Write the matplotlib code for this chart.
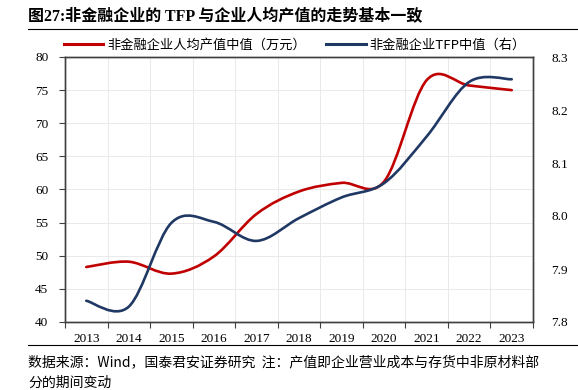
import matplotlib.pyplot as plt
import numpy as np
from matplotlib.path import Path
from matplotlib.patches import PathPatch
from matplotlib.lines import Line2D

plt.rcParams['font.family'] = ['Liberation Serif', 'Noto Sans CJK SC']

years = [2013, 2014, 2015, 2016, 2017, 2018, 2019, 2020, 2021, 2022, 2023]
output_median = [48.3, 49.1, 47.3, 49.9, 56.3, 59.7, 61.0, 61.2, 76.5, 75.7, 75.0]
tfp_median = [7.840, 7.829, 7.987, 7.989, 7.953, 7.996, 8.035, 8.062, 8.150, 8.253, 8.258]
name_output = "非金融企业人均产值中值（万元）"
name_tfp = "非金融企业TFP中值（右）"

red = "#C00000"
navy = "#203864"


def smooth_path(xs, ys):
    # Excel-style smoothed line: cubic Bezier segments through the data points
    xs = np.asarray(xs, float)
    ys = np.asarray(ys, float)
    pts = np.column_stack([xs, ys])
    n = len(pts)
    verts = [pts[0]]
    codes = [Path.MOVETO]
    for i in range(n - 1):
        p0 = pts[i - 1] if i > 0 else pts[i]
        p1 = pts[i]
        p2 = pts[i + 1]
        p3 = pts[i + 2] if i + 2 < n else pts[i + 1]
        c1 = p1 + (p2 - p0) / 6
        c2 = p2 - (p3 - p1) / 6
        verts += [c1, c2, p2]
        codes += [Path.CURVE4] * 3
    return Path(verts, codes)


fig = plt.figure(figsize=(5.78, 3.9), dpi=100)
ax = fig.add_axes([65 / 578, 1 - 322 / 390, 468 / 578, 265 / 390])
ax2 = ax.twinx()

ax.set_xlim(years[0] - 0.5, years[-1] + 0.5)
ax.set_ylim(40, 80)
ax2.set_ylim(7.8, 8.3)

ax.add_patch(PathPatch(smooth_path(years, output_median), fill=False,
                       edgecolor=red, lw=1.9, capstyle='round', zorder=3))
ax2.add_patch(PathPatch(smooth_path(years, tfp_median), fill=False,
                        edgecolor=navy, lw=1.9, capstyle='round', zorder=3))

ax.set_xticks(np.arange(years[0] - 0.5, years[-1] + 1, 1))
ax.set_xticklabels([])
ax.set_xticks(years, minor=True)
ax.set_xticklabels([str(y) for y in years], minor=True)
ax.tick_params(axis='x', which='minor', length=0, pad=8, labelsize=9.5)
ax.tick_params(axis='x', which='major', length=4, width=0.8, color='#404040', direction='out')
ax.set_yticks(np.arange(40, 81, 5))
ax.tick_params(axis='y', length=4, width=0.8, color='#404040', pad=8, labelsize=9.5)
ax2.set_yticks([7.8, 7.9, 8.0, 8.1, 8.2, 8.3])
ax2.set_yticklabels(["7.8", "7.9", "8.0", "8.1", "8.2", "8.3"])
ax2.tick_params(axis='y', length=0, pad=13, labelsize=9.5)

ax.grid(True, which='major', color='#e6e6e6', lw=0.6)
ax.set_axisbelow(True)
for a in (ax, ax2):
    for s in a.spines.values():
        s.set_color('#404040')
        s.set_linewidth(1.0)

handles = [Line2D([], [], color=red, lw=2.2), Line2D([], [], color=navy, lw=2.2)]
fig.legend(handles, [name_output, name_tfp], loc='center', bbox_to_anchor=(0.51, 1 - 45 / 390),
           ncol=2, frameon=False, prop={'family': ['Noto Sans CJK SC'], 'size': 9.5},
           handlelength=3.0, handletextpad=0.3, columnspacing=1.5)

fig.text(28 / 578, 1 - 17 / 390, "图27:非金融企业的 TFP 与企业人均产值的走势基本一致",
         ha='left', va='center', fontsize=11.5, fontweight='bold',
         family=['Liberation Serif', 'Noto Sans CJK SC'])
fig.add_artist(Line2D([28 / 578, 1], [1 - 29 / 390] * 2, color='black', lw=0.8))
fig.add_artist(Line2D([28 / 578, 1], [1 - 345 / 390] * 2, color='black', lw=0.8))
fig.text(28 / 578, 1 - 362 / 390, "数据来源：Wind，国泰君安证券研究  注：产值即企业营业成本与存货中非原材料部",
         ha='left', va='center', fontsize=10, family=['Noto Sans CJK SC'])
fig.text(28 / 578, 1 - 383 / 390, "分的期间变动",
         ha='left', va='center', fontsize=10, family=['Noto Sans CJK SC'])

fig.savefig("out.png", dpi=100)
